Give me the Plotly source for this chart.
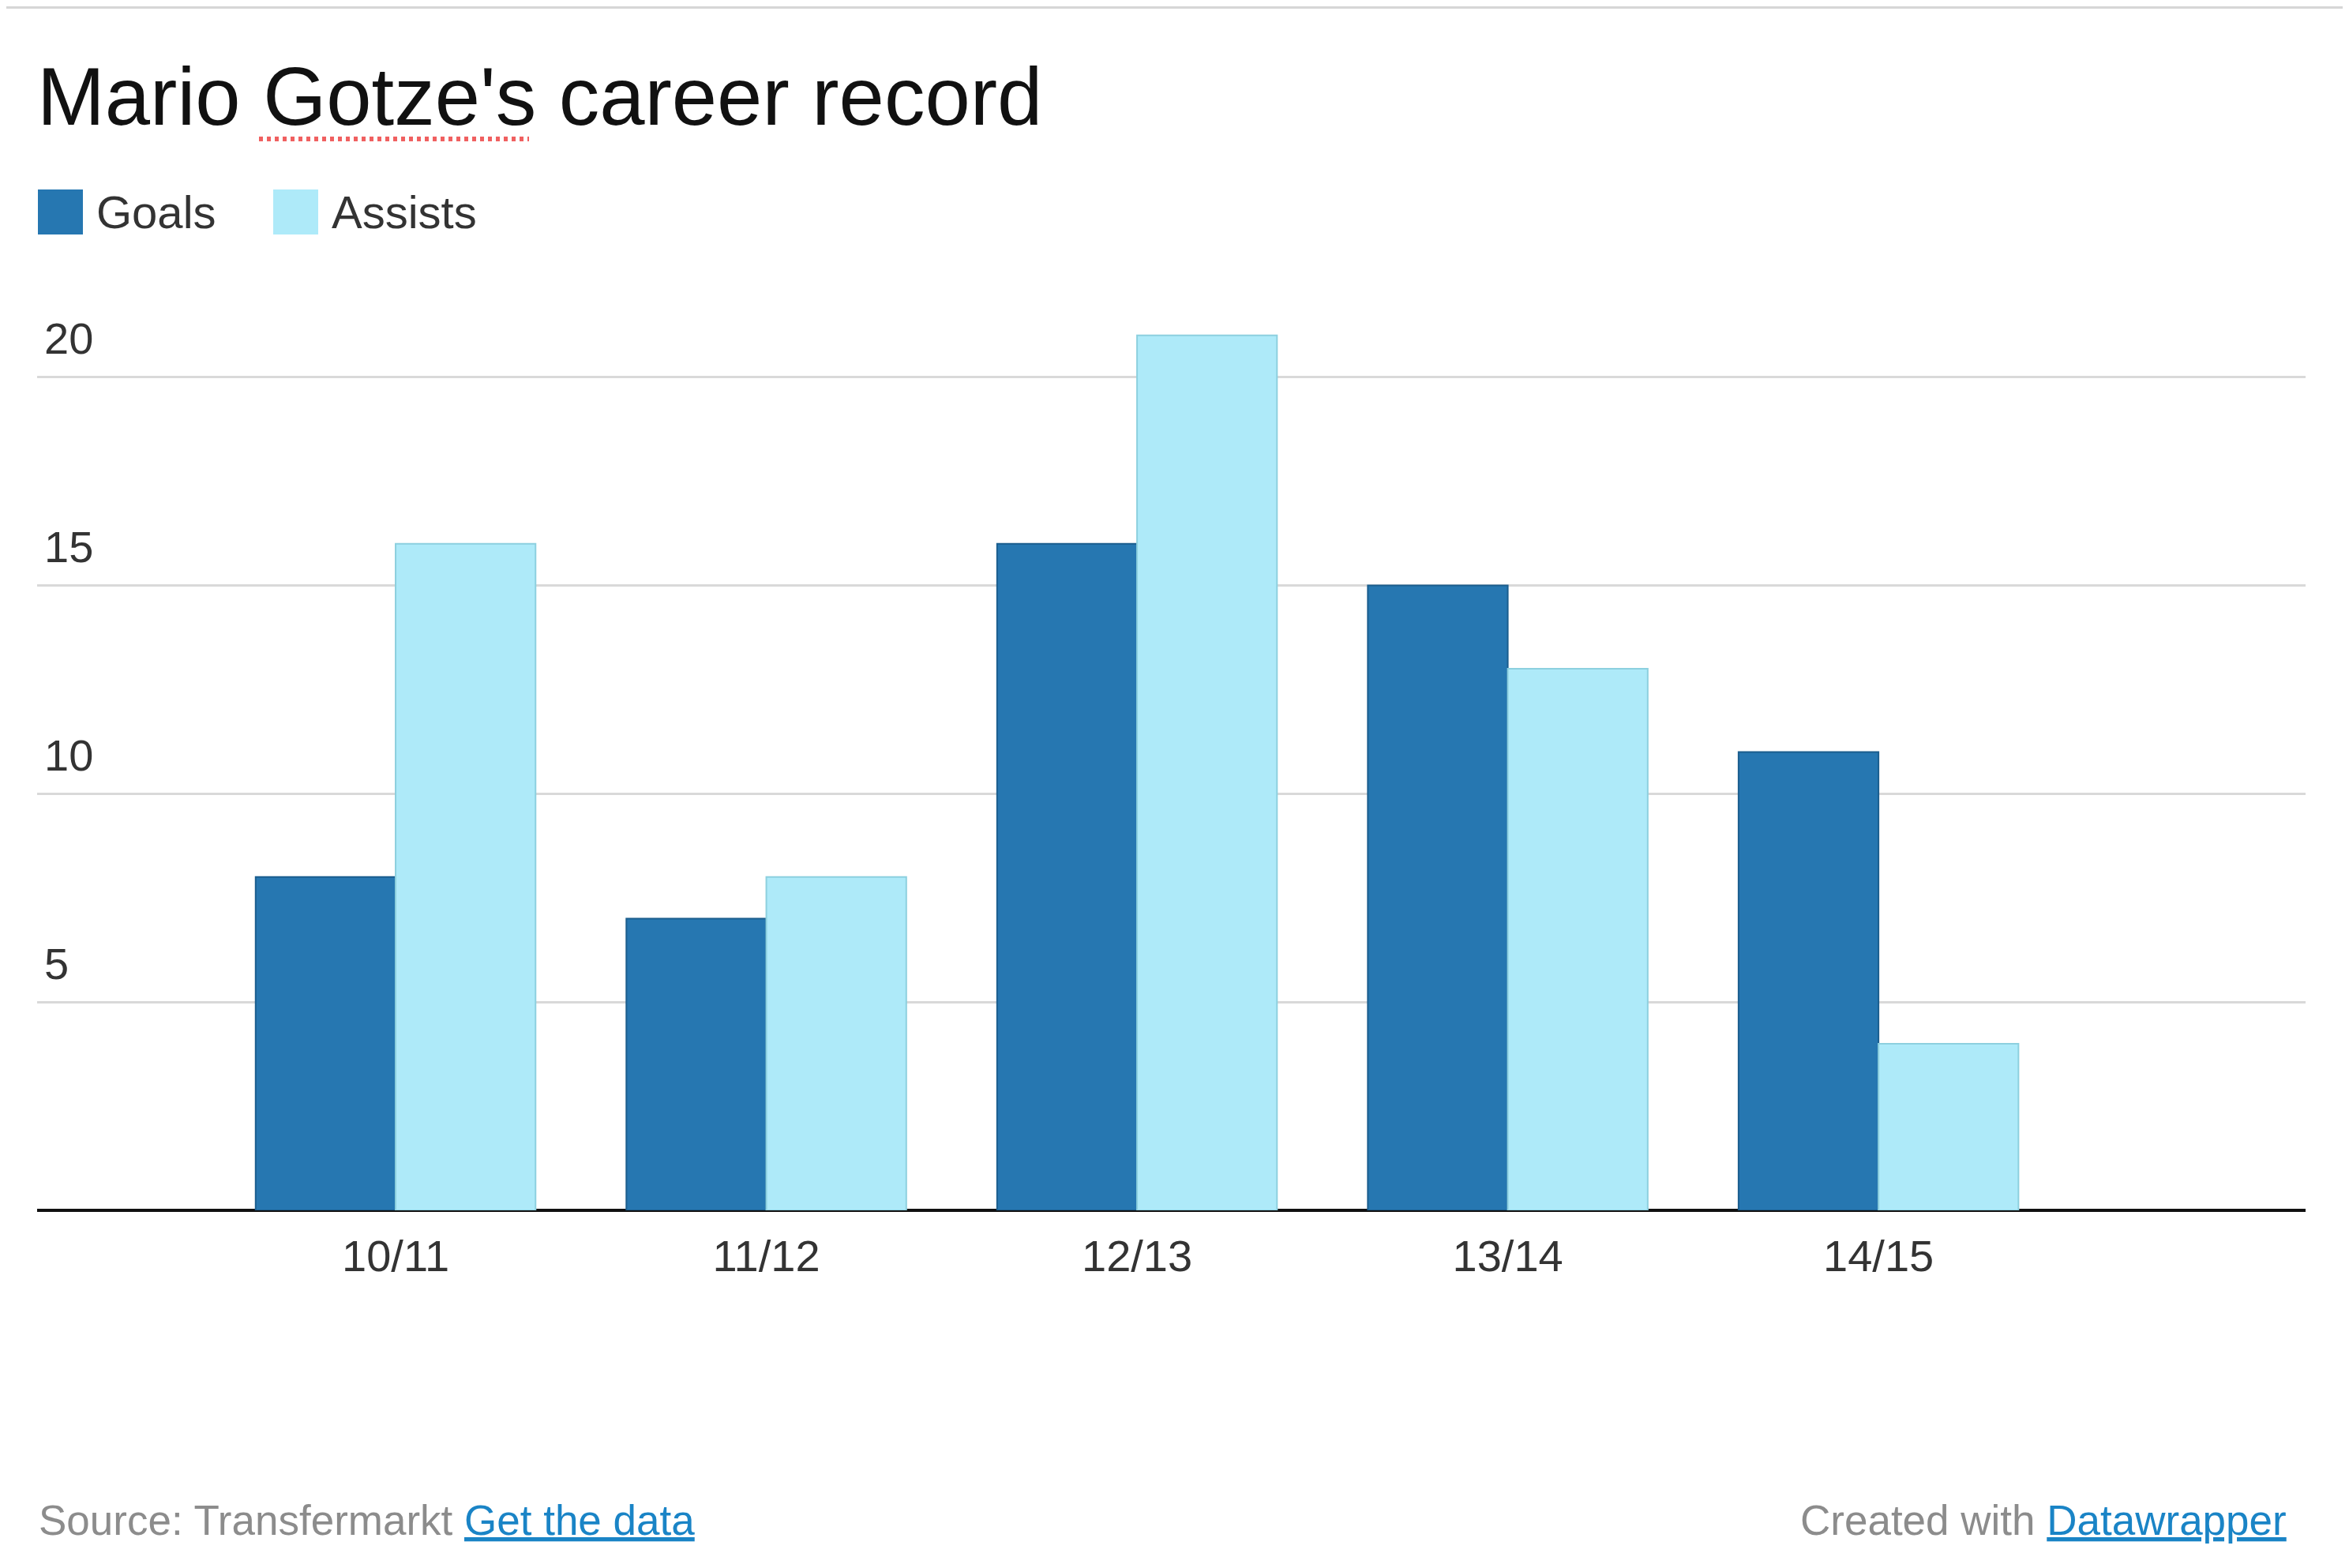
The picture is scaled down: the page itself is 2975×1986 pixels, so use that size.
import plotly.graph_objects as go

# career record per season
seasons = ['10/11', '11/12', '12/13', '13/14', '14/15']
goals = [8, 7, 16, 15, 11]
assists = [16, 8, 21, 13, 4]
y_ticks = [5, 10, 15, 20]

goals_color = '#2677b1'
assists_color = '#aeeaf9'
font = 'Liberation Sans'

W, H = 2975, 1986
OFF = 8  # page body margin
# plot area edges in screen pixels
PL, PR, PT, PB = 47, 2920, 372, 1533


def px_x(px):
    # screen pixel -> paper x
    return (px - PL) / (PR - PL)


def px_y(py):
    # screen pixel (from top) -> paper y
    return (PB - py) / (PB - PT)


fig = go.Figure()
fig.add_trace(go.Bar(x=seasons, y=goals, name='Goals',
                     marker=dict(color=goals_color,
                                 line=dict(color='#1b5e8e', width=2)),
                     showlegend=False))
fig.add_trace(go.Bar(x=seasons, y=assists, name='Assists',
                     marker=dict(color=assists_color,
                                 line=dict(color='#8dd0df', width=2)),
                     showlegend=False))

fig.update_layout(
    width=W, height=H,
    margin=dict(l=PL - OFF, r=W - PR + OFF, t=PT - OFF, b=H - PB + OFF),
    paper_bgcolor='white', plot_bgcolor='white',
    barmode='group', bargap=0.245, bargroupgap=0,
    font=dict(family=font, color='#333333', size=56),
    title=dict(text="Mario Gotze's career record", xref='container',
               x=(PL - OFF) / W, xanchor='left', yref='container',
               y=1 - (158 - OFF) / H, yanchor='bottom',
               font=dict(family=font, size=103, color='#111111')),
)

fig.update_xaxes(type='category', range=[-0.967, 5.152], showgrid=False,
                 showline=False, ticks='', tickfont=dict(size=56, color='#333333'),
                 ticklabelstandoff=20)
fig.update_yaxes(range=[0, 22], tickvals=y_ticks, showgrid=True,
                 gridcolor='#d9d9d9', gridwidth=3, zeroline=True,
                 zerolinecolor='#111111', zerolinewidth=4,
                 ticklabelposition='inside top', ticklabelstandoff=6,
                 ticklabelshift=-10,
                 tickfont=dict(size=56, color='#333333'))

# legend, drawn by hand so the swatches can be big
legend_items = [('Goals', goals_color, 48), ('Assists', assists_color, 346)]
for name, color, x0 in legend_items:
    fig.add_shape(type='rect', xref='paper', yref='paper',
                  x0=px_x(x0), x1=px_x(x0 + 57), y0=px_y(297), y1=px_y(240),
                  fillcolor=color, line=dict(width=0))
    fig.add_annotation(text=name, xref='paper', yref='paper',
                       x=px_x(x0 + 72), y=px_y(268), xanchor='left',
                       yanchor='middle', showarrow=False,
                       font=dict(size=58, color='#333333'))

# thin grey rule along the top
fig.add_shape(type='line', xref='paper', yref='paper', x0=px_x(0), x1=px_x(W),
              y0=px_y(OFF + 1), y1=px_y(OFF + 1),
              line=dict(color='#d6d6d6', width=4))

# spell-check squiggle under "Gotze"
fig.add_shape(type='line', xref='paper', yref='paper', x0=px_x(328), x1=px_x(670),
              y0=px_y(176), y1=px_y(176),
              line=dict(color='#f06060', width=6, dash='5px,5px'))

# footer
fig.add_annotation(text="<span style='color:#8c8c8c'>Source: Transfermarkt</span> "
                        "<a href='#' style='color:#1a84c6'><u>Get the data</u></a>",
                   xref='paper', yref='paper', x=px_x(47), y=px_y(1925),
                   xanchor='left', yanchor='middle', showarrow=False,
                   font=dict(size=53, color='#8c8c8c'))
fig.add_annotation(text="<span style='color:#8c8c8c'>Created with</span> "
                        "<a href='#' style='color:#1a84c6'><u>Datawrapper</u></a>",
                   xref='paper', yref='paper', x=px_x(2898), y=px_y(1925),
                   xanchor='right', yanchor='middle', showarrow=False,
                   font=dict(size=53, color='#8c8c8c'))

fig.write_html('out.html')
